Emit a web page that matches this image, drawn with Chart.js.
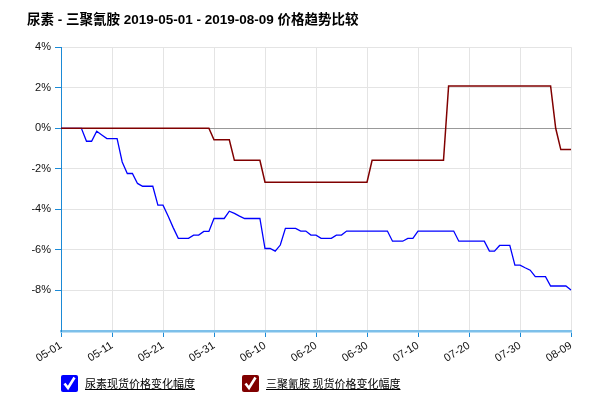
<!DOCTYPE html>
<html>
<head>
<meta charset="utf-8">
<script src="https://cdn.jsdelivr.net/npm/chart.js@4/dist/chart.umd.min.js"></script>
<style>
  html, body { margin: 0; padding: 0; background: #fff; }
  #wrap { position: relative; width: 600px; height: 415px; }
  canvas { position: absolute; left: 0; top: 0; }
  .lg { position: absolute; top: 375px; height: 17px; display: flex; align-items: center;
        font-family: "Noto Sans CJK SC", "Liberation Sans", sans-serif; font-size: 11px; color: #000; }
  .lg svg { display: block; margin-right: 7px; }
  .lg span { text-decoration: underline; line-height: 17px; }
</style>
</head>
<body>
<div id="wrap">
  <canvas id="c" width="600" height="415"></canvas>
  <div class="lg" style="left:61px">
    <svg width="17" height="17" viewBox="0 0 17 17"><rect x="0" y="0" width="17" height="17" rx="2" fill="#0000ff"/><polyline points="3.5,8.5 7,13 13.5,2.5" fill="none" stroke="#fff" stroke-width="2.6"/></svg>
    <span id="lg0"></span>
  </div>
  <div class="lg" style="left:242px">
    <svg width="17" height="17" viewBox="0 0 17 17"><rect x="0" y="0" width="17" height="17" rx="2" fill="#800000"/><polyline points="3.5,8.5 7,13 13.5,2.5" fill="none" stroke="#fff" stroke-width="2.6"/></svg>
    <span id="lg1"></span>
  </div>
</div>
<script>
const titleText = "尿素 - 三聚氰胺 2019-05-01 - 2019-08-09 价格趋势比较";
const seriesNames = ["尿素现货价格变化幅度", "三聚氰胺 现货价格变化幅度"];

const categories = [
  "05-01","05-02","05-03","05-04","05-05","05-06","05-07","05-08","05-09","05-10",
  "05-11","05-12","05-13","05-14","05-15","05-16","05-17","05-18","05-19","05-20",
  "05-21","05-22","05-23","05-24","05-25","05-26","05-27","05-28","05-29","05-30",
  "05-31","06-01","06-02","06-03","06-04","06-05","06-06","06-07","06-08","06-09",
  "06-10","06-11","06-12","06-13","06-14","06-15","06-16","06-17","06-18","06-19",
  "06-20","06-21","06-22","06-23","06-24","06-25","06-26","06-27","06-28","06-29",
  "06-30","07-01","07-02","07-03","07-04","07-05","07-06","07-07","07-08","07-09",
  "07-10","07-11","07-12","07-13","07-14","07-15","07-16","07-17","07-18","07-19",
  "07-20","07-21","07-22","07-23","07-24","07-25","07-26","07-27","07-28","07-29",
  "07-30","07-31","08-01","08-02","08-03","08-04","08-05","08-06","08-07","08-08",
  "08-09"
];

const ureaValues = [
  0, 0, 0, 0, 0, -0.64, -0.64, -0.15, -0.33, -0.51,
  -0.51, -0.51, -1.66, -2.23, -2.23, -2.72, -2.86, -2.86, -2.86, -3.79,
  -3.79, -4.33, -4.90, -5.43, -5.43, -5.43, -5.27, -5.27, -5.09, -5.09,
  -4.45, -4.45, -4.45, -4.09, -4.20, -4.33, -4.45, -4.45, -4.45, -4.45,
  -5.93, -5.93, -6.06, -5.76, -4.94, -4.94, -4.94, -5.07, -5.07, -5.27,
  -5.27, -5.43, -5.43, -5.43, -5.27, -5.27, -5.07, -5.07, -5.07, -5.07,
  -5.07, -5.07, -5.07, -5.07, -5.07, -5.57, -5.57, -5.57, -5.43, -5.43,
  -5.07, -5.07, -5.07, -5.07, -5.07, -5.07, -5.07, -5.07, -5.57, -5.57,
  -5.57, -5.57, -5.57, -5.57, -6.06, -6.06, -5.78, -5.78, -5.78, -6.75,
  -6.75, -6.88, -7.00, -7.32, -7.32, -7.32, -7.78, -7.78, -7.78, -7.78,
  -7.98
];

const melamineValues = [
  0, 0, 0, 0, 0, 0, 0, 0, 0, 0,
  0, 0, 0, 0, 0, 0, 0, 0, 0, 0,
  0, 0, 0, 0, 0, 0, 0, 0, 0, 0,
  -0.57, -0.57, -0.57, -0.57, -1.58, -1.58, -1.58, -1.58, -1.58, -1.58,
  -2.66, -2.66, -2.66, -2.66, -2.66, -2.66, -2.66, -2.66, -2.66, -2.66,
  -2.66, -2.66, -2.66, -2.66, -2.66, -2.66, -2.66, -2.66, -2.66, -2.66,
  -2.66, -1.58, -1.58, -1.58, -1.58, -1.58, -1.58, -1.58, -1.58, -1.58,
  -1.58, -1.58, -1.58, -1.58, -1.58, -1.58, 2.09, 2.09, 2.09, 2.09,
  2.09, 2.09, 2.09, 2.09, 2.09, 2.09, 2.09, 2.09, 2.09, 2.09,
  2.09, 2.09, 2.09, 2.09, 2.09, 2.09, 2.09, 0, -1.05, -1.05,
  -1.05
];

const xTickLabels = ["05-01","05-11","05-21","05-31","06-10","06-20","06-30","07-10","07-20","07-30","08-09"];
const yTickValues = [4, 2, 0, -2, -4, -6, -8];

document.getElementById('lg0').textContent = seriesNames[0];
document.getElementById('lg1').textContent = seriesNames[1];

const AXIS_BLUE = '#1b8ad6';

new Chart(document.getElementById('c'), {
  type: 'line',
  data: {
    labels: categories,
    datasets: [
      { label: seriesNames[1], data: melamineValues, borderColor: '#800000', borderWidth: 1.5,
        pointRadius: 0, tension: 0, fill: false },
      { label: seriesNames[0], data: ureaValues, borderColor: '#0000ff', borderWidth: 1.3,
        pointRadius: 0, tension: 0, fill: false }
    ]
  },
  options: {
    responsive: false,
    animation: false,
    layout: { padding: { left: 27, right: 29, top: 0, bottom: 0 } },
    plugins: {
      legend: { display: false },
      tooltip: { enabled: false },
      title: {
        display: true, text: titleText, align: 'start', color: '#000',
        font: { family: '"Liberation Sans", "Noto Sans CJK SC", sans-serif', size: 13.5, weight: 'bold' },
        padding: { top: 12, bottom: 19 }
      }
    },
    scales: {
      x: {
        type: 'category',
        offset: false,
        afterFit: (s) => { s.height = 84; },
        border: { display: true, color: '#7dc0ea', width: 2.5 },
        grid: {
          color: '#e4e4e4', tickColor: AXIS_BLUE, tickLength: 6, drawTicks: true
        },
        ticks: {
          autoSkip: false, maxRotation: 32, minRotation: 32, padding: 2,
          color: '#111', font: { family: '"Liberation Sans", Arial, sans-serif', size: 11 },
          callback: function(v, i) {
            const lab = categories[i];
            return xTickLabels.includes(lab) ? lab : null;
          }
        }
      },
      y: {
        min: -10, max: 4,
        afterFit: (s) => { s.width = 34; },
        border: { display: true, color: AXIS_BLUE, width: 1 },
        grid: {
          color: (ctx) => (ctx.tick && ctx.tick.value === 0) ? '#999999' : '#e4e4e4',
          tickColor: AXIS_BLUE, tickLength: 6
        },
        ticks: {
          stepSize: 2, padding: 4,
          color: '#111', font: { family: '"Liberation Sans", Arial, sans-serif', size: 11 },
          callback: (v) => yTickValues.includes(v) ? v + '%' : null
        }
      }
    }
  }
});
</script>
</body>
</html>
